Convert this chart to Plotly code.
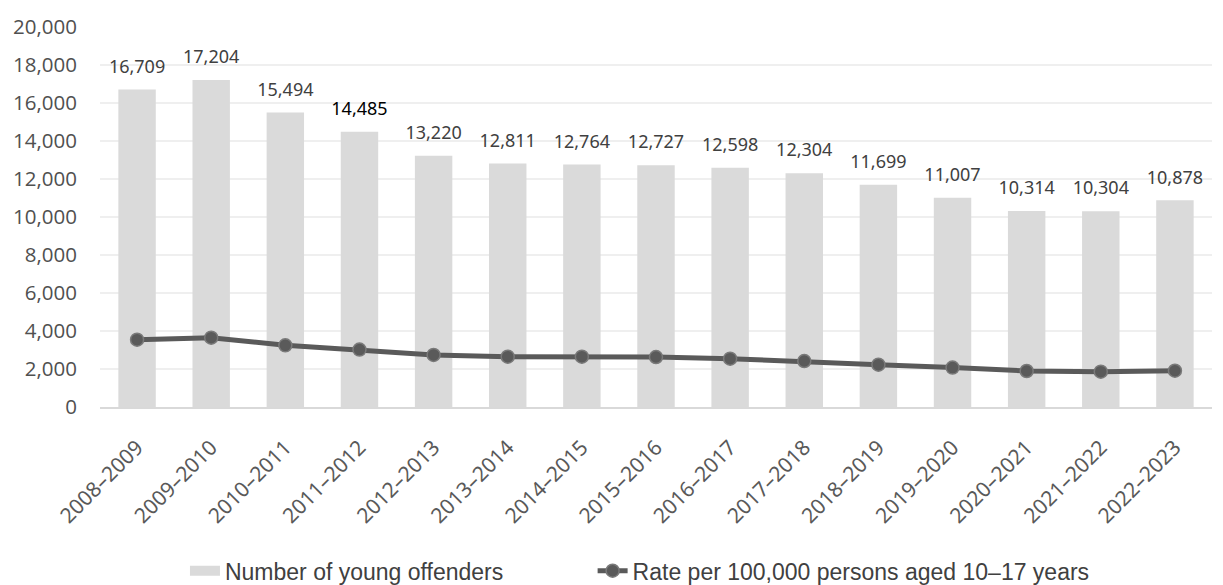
import plotly.graph_objects as go

years = ["2008–2009", "2009–2010", "2010–2011", "2011–2012", "2012–2013", "2013–2014",
         "2014–2015", "2015–2016", "2016–2017", "2017–2018", "2018–2019", "2019–2020",
         "2020–2021", "2021–2022", "2022–2023"]
offenders = [16709, 17204, 15494, 14485, 13220, 12811, 12764, 12727, 12598, 12304,
             11699, 11007, 10314, 10304, 10878]
rate = [3545, 3650, 3245, 3020, 2740, 2650, 2650, 2630, 2545, 2420, 2230, 2075, 1895,
        1860, 1910]
y_ticks = list(range(0, 20001, 2000))

label_colors = ["#404040"] * len(years)
label_colors[3] = "#000000"

fig = go.Figure()
fig.add_trace(go.Bar(
    x=years, y=offenders, name="Number of young offenders",
    marker=dict(color="#dadada", line=dict(width=0)),
    width=0.505, showlegend=False, hoverinfo="x+y",
))
# value labels above the bars
fig.add_trace(go.Scatter(
    x=years, y=offenders, mode="markers+text",
    marker=dict(size=18, color="rgba(0,0,0,0)"),
    text=[f"{v:,}" for v in offenders], textposition="top center",
    textfont=dict(family="Noto Sans", size=18, color=label_colors),
    showlegend=False, hoverinfo="skip", cliponaxis=False,
))
# legend-only entry with a wide swatch for the bars
fig.add_trace(go.Scatter(
    x=[None], y=[None], mode="lines", name="Number of young offenders",
    line=dict(color="#dadada", width=16), hoverinfo="skip", legend="legend",
))
fig.add_trace(go.Scatter(
    x=years, y=rate, name="Rate per 100,000 persons aged 10–17 years",
    mode="lines+markers",
    line=dict(color="#5a5a5a", width=5),
    marker=dict(size=13, color="#5a5a5a", line=dict(color="#7a7a7a", width=1.5)),
    legend="legend2",
))

legend_font = dict(family="Liberation Sans", size=23, color="#404040")
fig.update_layout(
    width=1223, height=585,
    margin=dict(l=92, r=19, t=19, b=186, autoexpand=False),
    paper_bgcolor="white", plot_bgcolor="white",
    showlegend=True,
    legend=dict(orientation="h", x=0.0764, xanchor="left", y=-0.431, yanchor="middle",
                font=legend_font, bgcolor="rgba(0,0,0,0)"),
    legend2=dict(orientation="h", x=0.443, xanchor="left", y=-0.431, yanchor="middle",
                 font=legend_font, bgcolor="rgba(0,0,0,0)"),
    font=dict(family="Open Sans", color="#404040"),
)
fig.update_yaxes(range=[0, 20000], tickvals=y_ticks, tickformat=",",
                 showgrid=True, gridcolor="#efefef", gridwidth=2,
                 zeroline=False, showline=False,
                 tickfont=dict(family="Open Sans", size=20.5, color="#505050"),
                 ticks="", ticklabelstandoff=22, automargin=False)
fig.update_xaxes(range=[-0.5, 14.5], showline=True, linecolor="#d9d9d9", linewidth=2,
                 tickangle=-45, ticks="", automargin=False, ticklabelstandoff=18,
                 tickfont=dict(family="Noto Sans", size=21, color="#595959"))

fig.write_html("out.html")
